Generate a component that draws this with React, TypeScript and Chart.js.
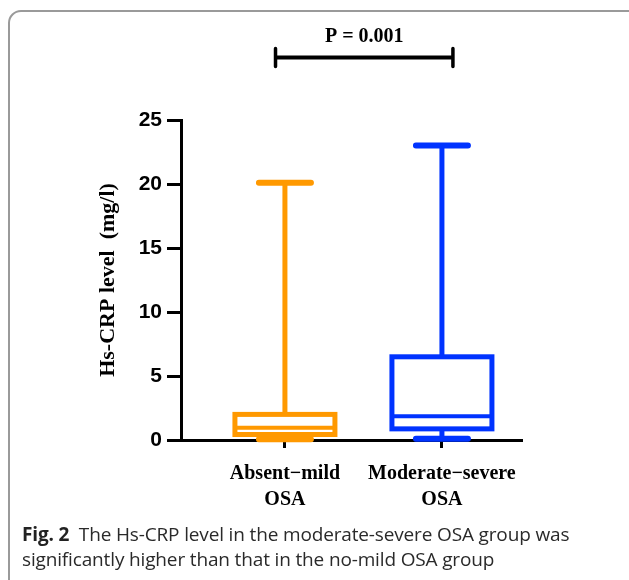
import React, { useEffect, useRef } from "react";
import { Chart, registerables } from "chart.js";

Chart.register(...registerables);

// ---- data ----
const categories: string[][] = [["Absent−mild", "OSA"], ["Moderate−severe", "OSA"]];
const positions = [1, 2];
const minValues = [0.05, 0.1];
const q1Values = [0.43, 0.87];
const medianValues = [0.96, 1.85];
const q3Values = [2.0, 6.5];
const maxValues = [20.1, 23.0];
const yTicks = [0, 5, 10, 15, 20, 25];
const yTitle = "Hs-CRP level  (mg/l)";
const pValueLabel = "P = 0.001";
const bracketFrom = 0.94;
const bracketTo = 2.07;

// ---- styles ----
const colors = ["#FF9900", "#0033FF"];
const SERIF = "'Liberation Serif', 'Times New Roman', serif";
const SANS = "'Liberation Sans', Arial, sans-serif";

const boxPlotPlugin = {
  id: "boxPlot",
  afterDatasetsDraw(chart: any) {
    const { ctx, scales } = chart;
    const xs = scales.x;
    const ys = scales.y;
    const half = 50;
    const capHalf = 26;
    ctx.save();
    positions.forEach((p, i) => {
      const x = xs.getPixelForValue(p);
      const yMin = ys.getPixelForValue(minValues[i]);
      const yQ1 = ys.getPixelForValue(q1Values[i]);
      const yMed = ys.getPixelForValue(medianValues[i]);
      const yQ3 = ys.getPixelForValue(q3Values[i]);
      const yMax = ys.getPixelForValue(maxValues[i]);
      ctx.strokeStyle = colors[i];
      // whiskers
      ctx.lineCap = "butt";
      ctx.lineWidth = 5;
      ctx.beginPath();
      ctx.moveTo(x, yMax);
      ctx.lineTo(x, yQ3);
      ctx.moveTo(x, yQ1);
      ctx.lineTo(x, yMin);
      ctx.stroke();
      // caps
      ctx.lineCap = "round";
      ctx.lineWidth = 6;
      ctx.beginPath();
      ctx.moveTo(x - capHalf, yMax);
      ctx.lineTo(x + capHalf, yMax);
      ctx.moveTo(x - capHalf, yMin);
      ctx.lineTo(x + capHalf, yMin);
      ctx.stroke();
      // box
      ctx.lineCap = "butt";
      ctx.lineJoin = "miter";
      ctx.lineWidth = 5;
      ctx.fillStyle = "#ffffff";
      ctx.fillRect(x - half, yQ3, half * 2, yQ1 - yQ3);
      ctx.strokeRect(x - half, yQ3, half * 2, yQ1 - yQ3);
      // median
      ctx.lineWidth = 4;
      ctx.beginPath();
      ctx.moveTo(x - half, yMed);
      ctx.lineTo(x + half, yMed);
      ctx.stroke();
    });
    ctx.restore();
  },
  afterDraw(chart: any) {
    const { ctx, scales } = chart;
    const xs = scales.x;
    const x1 = xs.getPixelForValue(bracketFrom);
    const x2 = xs.getPixelForValue(bracketTo);
    const y = 57.5;
    ctx.save();
    ctx.strokeStyle = "#000";
    ctx.lineWidth = 4;
    ctx.lineCap = "butt";
    ctx.beginPath();
    ctx.moveTo(x1, y);
    ctx.lineTo(x2, y);
    ctx.stroke();
    ctx.lineCap = "round";
    ctx.lineWidth = 3.5;
    ctx.beginPath();
    ctx.moveTo(x1, y - 9);
    ctx.lineTo(x1, y + 9);
    ctx.moveTo(x2, y - 9);
    ctx.lineTo(x2, y + 9);
    ctx.stroke();
    ctx.fillStyle = "#000";
    ctx.font = `bold 20px ${SERIF}`;
    ctx.textAlign = "center";
    ctx.textBaseline = "middle";
    ctx.fillText(pValueLabel, (x1 + x2) / 2, 37);
    ctx.restore();
  },
};

export default function App() {
  const canvasRef = useRef<HTMLCanvasElement | null>(null);

  useEffect(() => {
    const canvas = canvasRef.current;
    if (!canvas) return;
    const chart = new Chart(canvas, {
      type: "scatter",
      data: {
        datasets: [
          {
            data: positions.map((p, i) => ({ x: p, y: medianValues[i] })),
            pointRadius: 0,
            showLine: false,
          },
        ],
      },
      options: {
        responsive: false,
        animation: false,
        events: [],
        layout: { padding: { top: 120, right: 107, bottom: 0, left: 0 } },
        plugins: {
          legend: { display: false },
          tooltip: { enabled: false },
          title: { display: false },
        },
        scales: {
          x: {
            type: "linear",
            min: 0.338,
            max: 2.51,
            afterBuildTicks: (s: any) => {
              s.ticks = positions.map((v) => ({ value: v }));
            },
            afterFit: (s: any) => {
              s.height = 140;
            },
            ticks: {
              autoSkip: false,
              maxRotation: 0,
              minRotation: 0,
              padding: 13,
              color: "#000",
              font: { family: SERIF, weight: "bold", size: 20, lineHeight: 1.3 },
              callback: (_v: any, i: number) => categories[i],
            },
            grid: {
              display: true,
              drawOnChartArea: false,
              drawTicks: true,
              tickLength: 8,
              tickWidth: 3,
              color: "#000",
            },
            border: { display: true, width: 3, color: "#000" },
          },
          y: {
            type: "linear",
            min: 0,
            max: 25,
            afterBuildTicks: (s: any) => {
              s.ticks = yTicks.map((v) => ({ value: v }));
            },
            afterFit: (s: any) => {
              s.width = 181;
            },
            ticks: {
              padding: 5,
              color: "#000",
              font: { family: SANS, weight: "bold", size: 21 },
            },
            grid: {
              display: true,
              drawOnChartArea: false,
              drawTicks: true,
              tickLength: 14,
              tickWidth: 3,
              color: "#000",
            },
            border: { display: true, width: 3, color: "#000" },
            title: {
              display: true,
              text: yTitle,
              color: "#000",
              font: { family: SERIF, weight: "bold", size: 22 },
              padding: { top: 95, bottom: 0 },
            },
          },
        },
      },
      plugins: [boxPlotPlugin],
    } as any);
    return () => chart.destroy();
  }, []);

  return (
    <div
      style={{
        position: "fixed",
        left: 0,
        top: 0,
        width: 629,
        height: 580,
        overflow: "hidden",
        background: "#fff",
      }}
    >
      <div
        style={{
          position: "absolute",
          left: 8,
          top: 10,
          width: 640,
          height: 590,
          border: "2px solid #9a9a9a",
          borderRadius: 13,
          boxSizing: "border-box",
        }}
      />
      <canvas
        ref={canvasRef}
        width={629}
        height={580}
        style={{ position: "absolute", left: 0, top: 0, width: 629, height: 580 }}
      />
      <div
        style={{
          position: "absolute",
          left: 22,
          top: 522,
          width: 610,
          whiteSpace: "nowrap",
          fontFamily: "'Open Sans', 'Noto Sans', sans-serif",
          fontSize: 19,
          lineHeight: "25px",
          color: "#2a2a2a",
          letterSpacing: -0.15,
        }}
      >
        <span style={{ fontWeight: 700, color: "#222" }}>Fig. 2</span>
        {"\u00a0 "}The Hs-CRP level in the moderate-severe OSA group was
        <br />
        significantly higher than that in the no-mild OSA group
      </div>
    </div>
  );
}
